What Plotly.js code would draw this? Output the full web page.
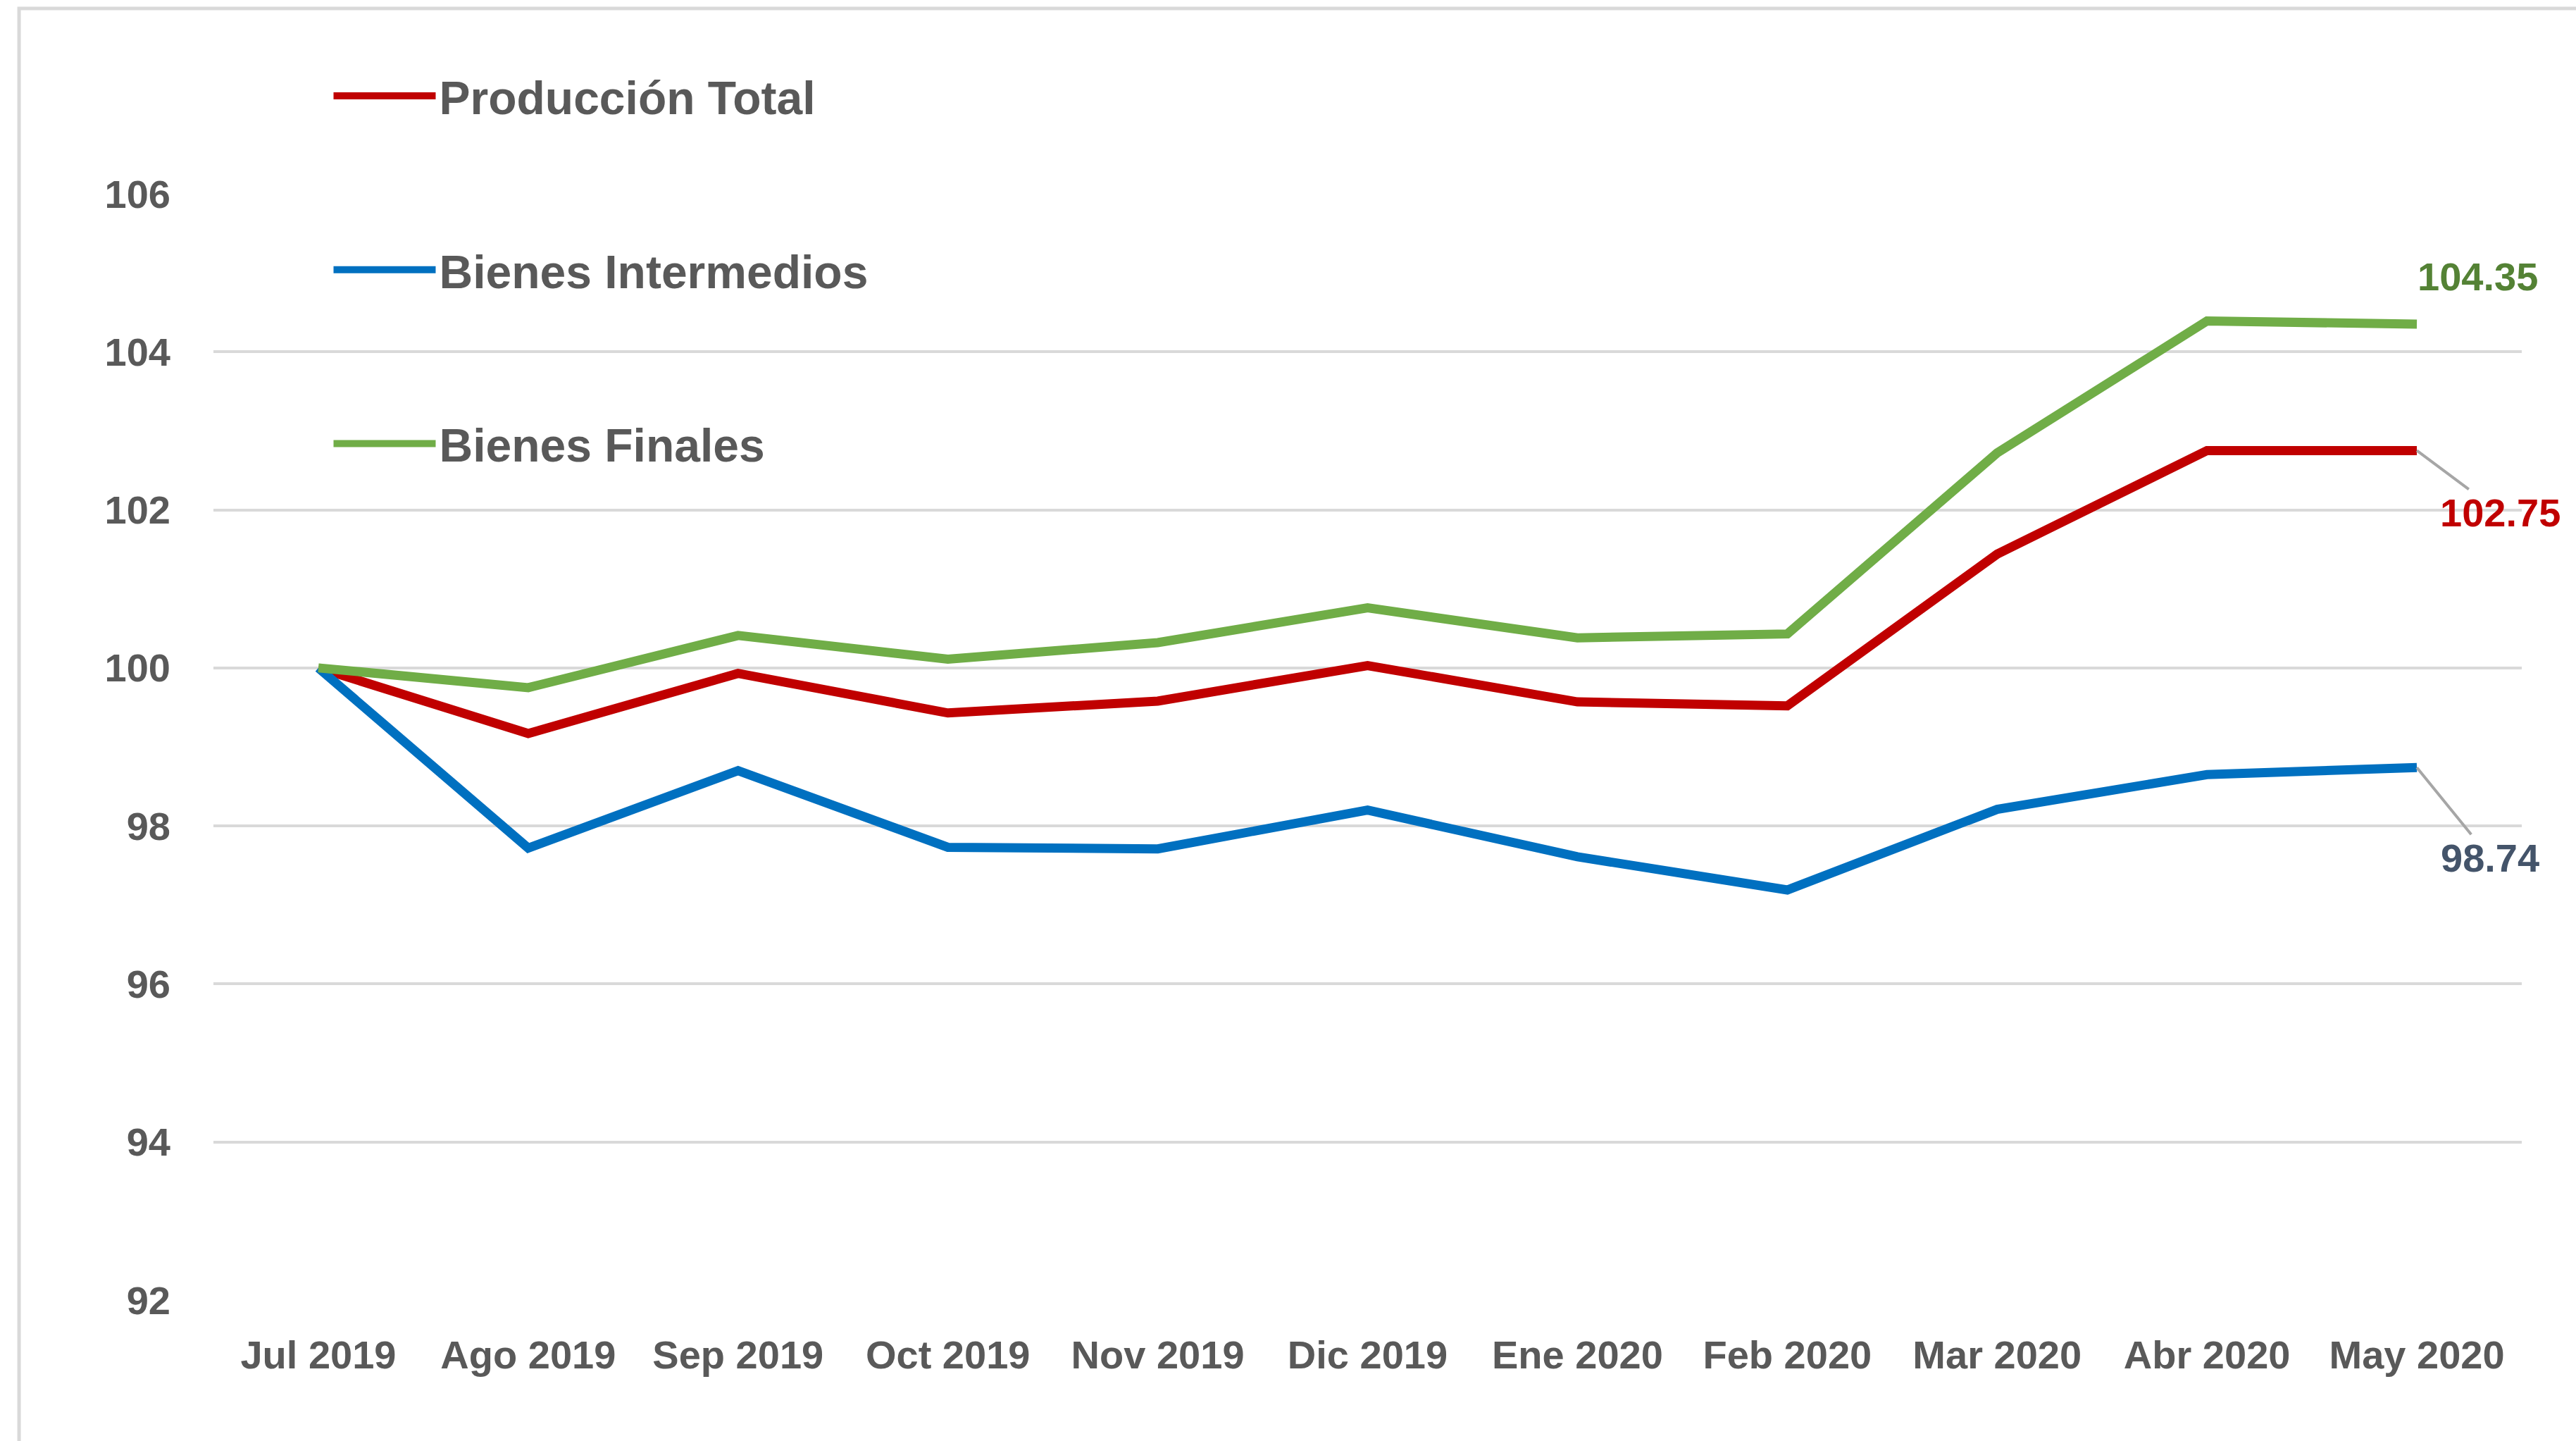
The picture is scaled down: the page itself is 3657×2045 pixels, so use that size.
<!DOCTYPE html>
<html>
<head>
<meta charset="utf-8">
<script src="https://cdn.plot.ly/plotly-3.0.1.min.js"></script>
<style>
  html, body { margin: 0; padding: 0; background: #ffffff; }
  #chart { width: 3657px; height: 2045px; }
</style>
</head>
<body>
<div id="chart"></div>
<script>
const months = ["Jul 2019", "Ago 2019", "Sep 2019", "Oct 2019", "Nov 2019", "Dic 2019",
                "Ene 2020", "Feb 2020", "Mar 2020", "Abr 2020", "May 2020"];
const produccionTotal = [100, 99.17, 99.93, 99.43, 99.58, 100.03, 99.57, 99.52, 101.44, 102.75, 102.75];
const bienesIntermedios = [100, 97.72, 98.70, 97.73, 97.71, 98.20, 97.61, 97.19, 98.21, 98.65, 98.74];
const bienesFinales = [100, 99.75, 100.41, 100.11, 100.32, 100.76, 100.38, 100.43, 102.72, 104.39, 104.35];
const seriesNames = ["Producción Total", "Bienes Intermedios", "Bienes Finales"];
const yTicks = [92, 94, 96, 98, 100, 102, 104, 106];

const FONT = "Liberation Sans, Arial, sans-serif";
const GRAY = "#595959";
const colors = ["#C00000", "#0070C0", "#70AD47"];
const series = [produccionTotal, bienesIntermedios, bienesFinales];

const traces = series.map((vals, i) => ({
  type: "scatter",
  mode: "lines",
  x: months,
  y: vals,
  name: seriesNames[i],
  legendgroup: "g" + i,
  line: { color: colors[i], width: 13, shape: "linear" },
  hoverinfo: "x+y+name"
}));

const last = months.length - 1;
const annotations = [
  { x: months[last], y: bienesFinales[last], text: bienesFinales[last].toFixed(2),
    showarrow: true, arrowcolor: "rgba(0,0,0,0)", arrowhead: 0, ax: 86, ay: -68,
    font: { family: FONT, size: 56, color: "#548235", weight: "bold" } },
  { x: months[last], y: produccionTotal[last], text: produccionTotal[last].toFixed(2),
    showarrow: true, arrowcolor: "#A6A6A6", arrowwidth: 4, arrowhead: 0, ax: 118, ay: 88,
    font: { family: FONT, size: 56, color: "#C00000", weight: "bold" } },
  { x: months[last], y: bienesIntermedios[last], text: bienesIntermedios[last].toFixed(2),
    showarrow: true, arrowcolor: "#A6A6A6", arrowwidth: 4, arrowhead: 0, ax: 104, ay: 128,
    font: { family: FONT, size: 56, color: "#44546A", weight: "bold" } }
];

const layout = {
  width: 3657,
  height: 2045,
  paper_bgcolor: "#ffffff",
  plot_bgcolor: "#ffffff",
  margin: { l: 303, r: 77, t: 275, b: 200 },
  font: { family: FONT, color: GRAY, size: 56, weight: "bold" },
  showlegend: true,
  legend: {
    x: 0.0505, y: 1.12, xanchor: "left", yanchor: "top",
    bgcolor: "rgba(0,0,0,0)",
    font: { family: FONT, size: 66, color: GRAY, weight: "bold" },
    traceorder: "grouped",
    tracegroupgap: 158,
    itemwidth: 145
  },
  xaxis: {
    type: "category",
    range: [-0.5, 10.5],
    showgrid: false,
    zeroline: false,
    showline: false,
    ticks: "",
    ticklabelstandoff: 40,
    tickfont: { family: FONT, size: 56, color: GRAY, weight: "bold" }
  },
  yaxis: {
    range: [92, 106],
    tickvals: yTicks,
    ticktext: yTicks.map(String),
    showgrid: true,
    gridcolor: "#D9D9D9",
    gridwidth: 4,
    zeroline: false,
    showline: false,
    ticks: "",
    ticklabelstandoff: 60,
    tickfont: { family: FONT, size: 56, color: GRAY, weight: "bold" }
  },
  annotations: annotations,
  shapes: [
    { type: "rect", xref: "paper", yref: "paper",
      x0: -0.0842, x1: 1.04, y0: -0.17, y1: 1.1675,
      line: { color: "#D9D9D9", width: 5 }, fillcolor: "rgba(0,0,0,0)", layer: "below" }
  ]
};

Plotly.newPlot("chart", traces, layout, { displayModeBar: false, staticPlot: true });
</script>
</body>
</html>
